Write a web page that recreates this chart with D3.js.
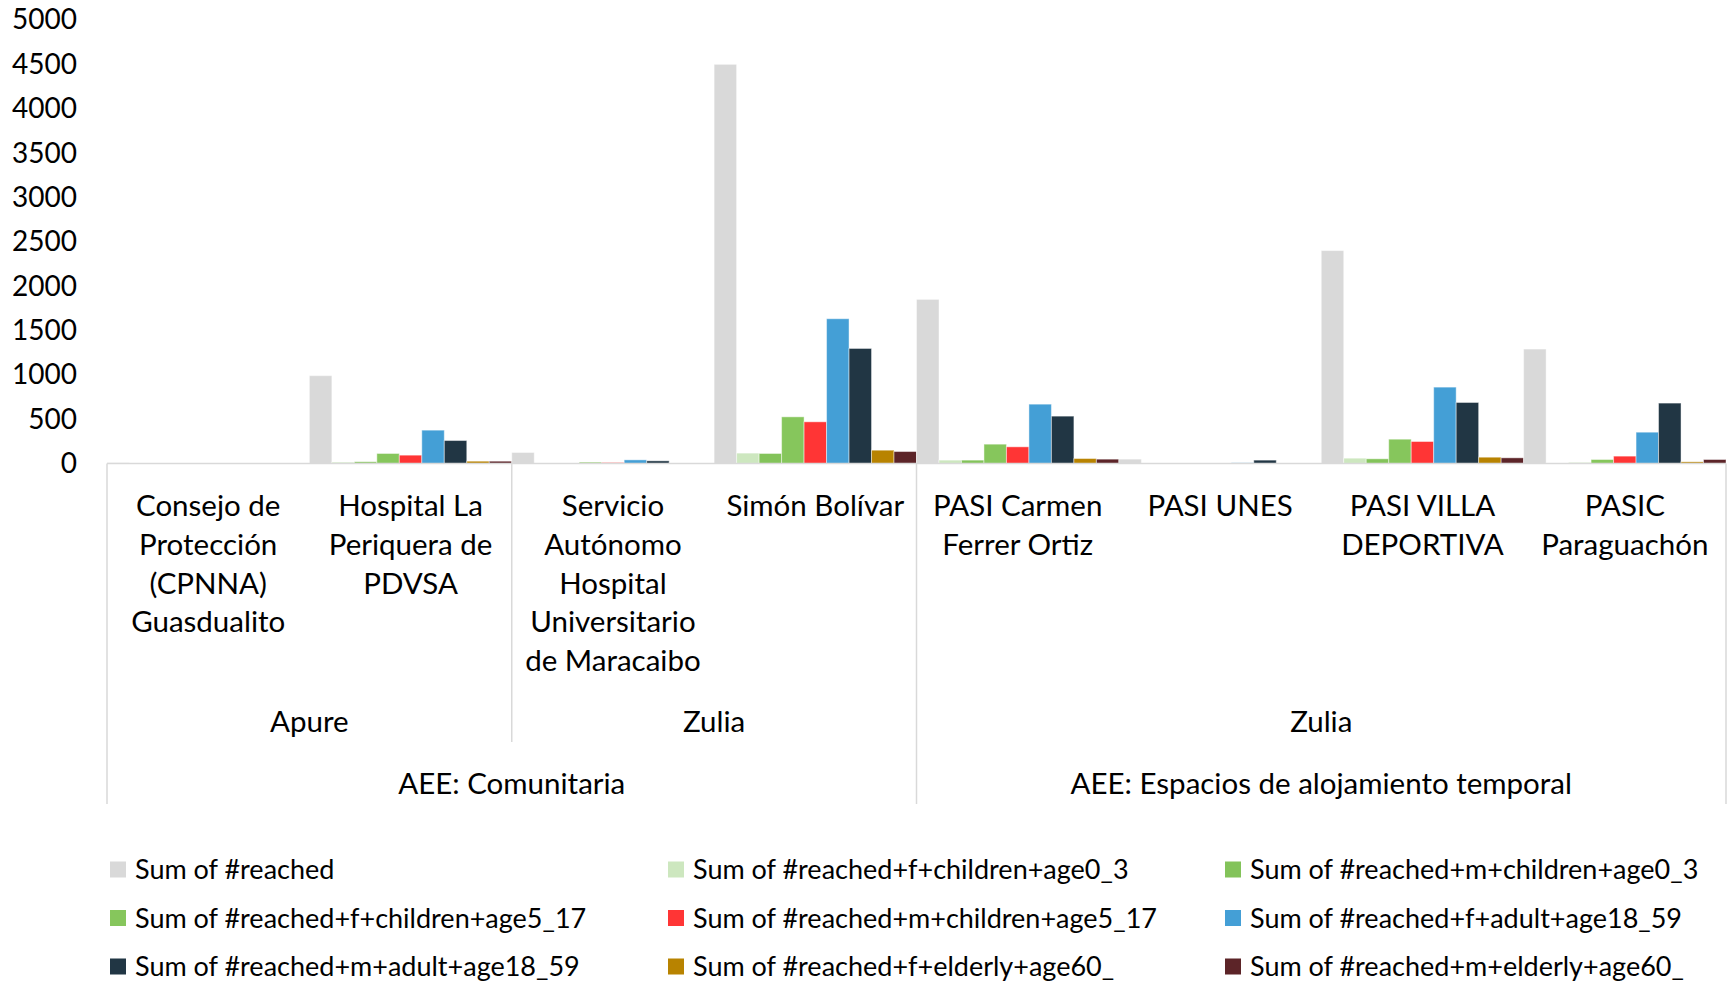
<!DOCTYPE html>
<html>
<head>
<meta charset="utf-8">
<script src="https://cdn.jsdelivr.net/npm/d3@7"></script>
<style>
  html, body { margin: 0; padding: 0; background: #fff; }
  svg { display: block; font-family: Lato, "Open Sans", sans-serif; }
  .tick text { fill: #000; }
</style>
</head>
<body>
<div id="chart"></div>
<script>
"use strict";

(function () {
   // categories (innermost level first), line breaks as in the original wrap
   const sites = [
      "Consejo de\nProtección\n(CPNNA)\nGuasdualito",
      "Hospital La\nPeriquera de\nPDVSA",
      "Servicio\nAutónomo\nHospital\nUniversitario\nde Maracaibo",
      "Simón Bolívar",
      "PASI Carmen\nFerrer Ortiz",
      "PASI UNES",
      "PASI VILLA\nDEPORTIVA",
      "PASIC\nParaguachón"
   ];
   const states = ["Apure", "Apure", "Zulia", "Zulia", "Zulia", "Zulia", "Zulia", "Zulia"];
   const aeeTypes = [
      "AEE: Comunitaria", "AEE: Comunitaria", "AEE: Comunitaria", "AEE: Comunitaria",
      "AEE: Espacios de alojamiento temporal", "AEE: Espacios de alojamiento temporal",
      "AEE: Espacios de alojamiento temporal", "AEE: Espacios de alojamiento temporal"
   ];

   // series values, one per site
   const reached      = [8, 990, 124, 4500, 1850, 49, 2400, 1290];
   const fChild0_3    = [0, 15, 2, 117, 38, 0, 60, 3];
   const mChild0_3    = [0, 20, 2, 113, 38, 0, 53, 8];
   const fChild5_17   = [0, 113, 15, 526, 218, 0, 274, 45];
   const mChild5_17   = [0, 94, 11, 470, 188, 0, 248, 83];
   const fAdult18_59  = [0, 376, 41, 1632, 669, 8, 861, 353];
   const mAdult18_59  = [0, 259, 30, 1297, 534, 38, 688, 681];
   const fElderly60   = [0, 26, 5, 150, 56, 0, 71, 19];
   const mElderly60   = [0, 26, 3, 135, 49, 0, 64, 45];

   const seriesNames = [
      "Sum of #reached",
      "Sum of #reached+f+children+age0_3",
      "Sum of #reached+m+children+age0_3",
      "Sum of #reached+f+children+age5_17",
      "Sum of #reached+m+children+age5_17",
      "Sum of #reached+f+adult+age18_59",
      "Sum of #reached+m+adult+age18_59",
      "Sum of #reached+f+elderly+age60_",
      "Sum of #reached+m+elderly+age60_"
   ];
   const seriesColours = [
      "#D9D9D9", "#CDE7BF", "#83C35A", "#86C65C", "#FF3535",
      "#449FD6", "#213644", "#B88300", "#5C2428"
   ];
   const yTicks = [0, 500, 1000, 1500, 2000, 2500, 3000, 3500, 4000, 4500, 5000];

   const series = [reached, fChild0_3, mChild0_3, fChild5_17, mChild5_17,
      fAdult18_59, mAdult18_59, fElderly60, mElderly60]
      .map((values, i) => ({ name: seriesNames[i], colour: seriesColours[i], values }));

   const width = 1731;
   const height = 983;
   const left = 107, right = 1726, top = 20, bottom = 463.5;
   const lineColour = "#D9D9D9";
   const labelSize = "29.5px";

   const svg = d3.select("#chart").append("svg")
      .attr("width", width)
      .attr("height", height);

   const x = d3.scaleBand()
      .domain(d3.range(sites.length))
      .range([left, right])
      .padding(0);

   const xInner = d3.scaleBand()
      .domain(d3.range(series.length))
      .range([0, x.bandwidth()])
      .padding(0);

   const y = d3.scaleLinear()
      .domain([0, 5000])
      .range([bottom, top]);

   // y axis, labels only
   svg.append("g")
      .attr("transform", `translate(${left},0)`)
      .call(d3.axisLeft(y).tickValues(yTicks).tickFormat(d3.format("d"))
         .tickSize(0).tickPadding(30))
      .call(g => g.select(".domain").remove())
      .selectAll("text")
      .style("font-size", "28px")
      .style("font-family", "Lato, sans-serif");

   // bars
   const siteGroups = svg.append("g")
      .selectAll("g")
      .data(sites.map((s, i) => i))
      .join("g")
      .attr("transform", i => `translate(${x(i)},0)`);

   siteGroups.selectAll("rect")
      .data(i => series.map((s, k) => ({ k, value: s.values[i], colour: s.colour })))
      .join("rect")
      .attr("x", d => xInner(d.k))
      .attr("width", xInner.bandwidth())
      .attr("y", d => y(d.value))
      .attr("height", d => y(0) - y(d.value))
      .attr("fill", d => d.colour)
      .attr("stroke", "#fff")
      .attr("stroke-opacity", 0.45)
      .attr("stroke-width", 1);

   // category axis line
   svg.append("line")
      .attr("x1", left).attr("x2", right)
      .attr("y1", y(0)).attr("y2", y(0))
      .attr("stroke", lineColour)
      .attr("stroke-width", 1.5);

   // innermost labels
   const siteLabels = svg.append("g")
      .style("font-size", labelSize)
      .attr("text-anchor", "middle");

   sites.forEach((s, i) => {
      const t = siteLabels.append("text")
         .attr("x", x(i) + x.bandwidth() / 2)
         .attr("y", 516);
      s.split("\n").forEach((line, j) => {
         t.append("tspan")
            .attr("x", x(i) + x.bandwidth() / 2)
            .attr("dy", j === 0 ? 0 : 38.8)
            .text(line);
      });
   });

   // consecutive runs for the outer levels
   function runs(keys) {
      const out = [];
      keys.forEach((k, i) => {
         const last = out[out.length - 1];
         if (last && last.key === k) last.end = i;
         else out.push({ key: k, start: i, end: i });
      });
      return out;
   }

   const stateRuns = runs(sites.map((s, i) => aeeTypes[i] + "|" + states[i]));
   const aeeRuns = runs(aeeTypes);

   const outer = svg.append("g")
      .style("font-size", labelSize)
      .attr("text-anchor", "middle");

   stateRuns.forEach(r => {
      const x0 = x(r.start), x1 = x(r.end) + x.bandwidth();
      outer.append("text")
         .attr("x", (x0 + x1) / 2)
         .attr("y", 732)
         .text(r.key.split("|")[1]);
   });

   aeeRuns.forEach(r => {
      const x0 = x(r.start), x1 = x(r.end) + x.bandwidth();
      outer.append("text")
         .attr("x", (x0 + x1) / 2)
         .attr("y", 794)
         .text(r.key);
   });

   // separator lines
   const seps = svg.append("g")
      .attr("stroke", lineColour)
      .attr("stroke-width", 1.5);

   const aeeEdges = new Set([left, right]);
   aeeRuns.forEach(r => aeeEdges.add(x(r.start)));

   stateRuns.forEach(r => {
      const xs = x(r.start);
      if (!aeeEdges.has(xs)) {
         seps.append("line")
            .attr("x1", xs).attr("x2", xs)
            .attr("y1", y(0)).attr("y2", 742);
      }
   });

   aeeEdges.forEach(xs => {
      seps.append("line")
         .attr("x1", xs).attr("x2", xs)
         .attr("y1", y(0)).attr("y2", 804);
   });

   // legend, 3 columns
   const legendCols = [110, 668, 1225];
   const legendRows = [869.5, 918, 966.5];

   const legend = svg.append("g")
      .style("font-size", "27px");

   series.forEach((s, i) => {
      const lx = legendCols[i % 3];
      const ly = legendRows[Math.floor(i / 3)];
      const item = legend.append("g")
         .attr("transform", `translate(${lx},${ly})`);
      item.append("rect")
         .attr("x", 0).attr("y", -8)
         .attr("width", 16).attr("height", 16)
         .attr("fill", s.colour);
      item.append("text")
         .attr("x", 25)
         .attr("dy", "0.36em")
         .text(s.name);
   });
})();
</script>
</body>
</html>
